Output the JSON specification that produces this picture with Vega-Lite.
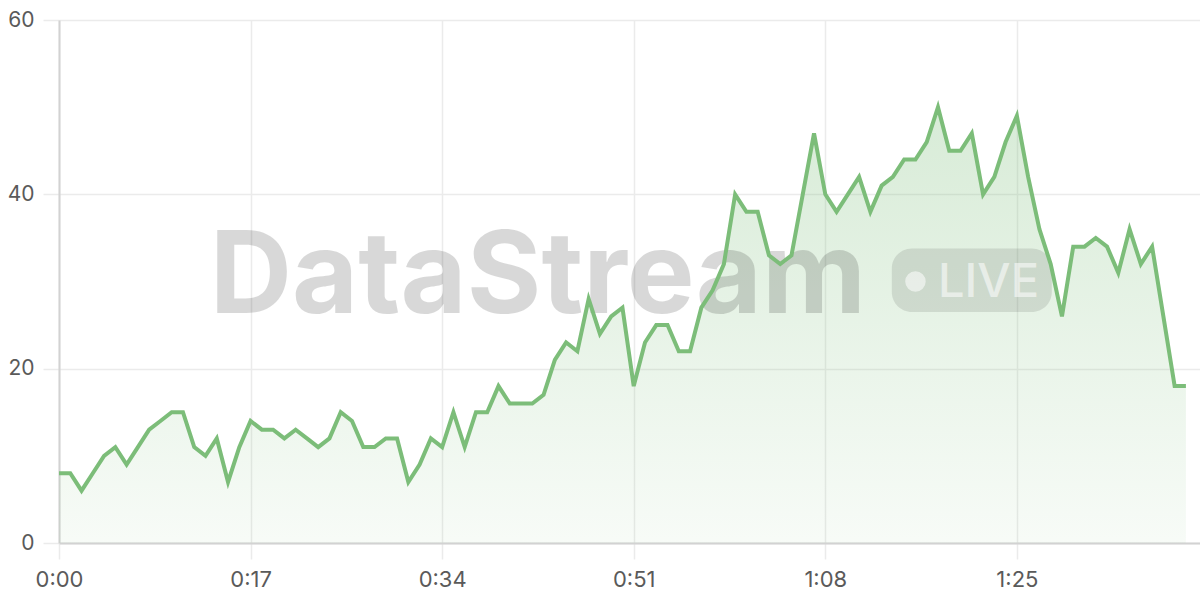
{
  "$schema": "https://vega.github.io/schema/vega-lite/v6.json",
  "width": 1141,
  "height": 523,
  "autosize": {"type": "none"},
  "padding": {"left": 59, "top": 20, "right": 0, "bottom": 57},
  "background": "white",
  "config": {
    "view": {"stroke": null},
    "font": "Inter",
    "axis": {
      "grid": true,
      "gridColor": "#ebebeb",
      "gridWidth": 1.5,
      "tickColor": "#ebebeb",
      "tickWidth": 1.5,
      "tickSize": 16,
      "domainColor": "#d2d2d2",
      "domainWidth": 2,
      "labelFontSize": 21,
      "labelColor": "#5a5a5a",
      "labelPadding": 9,
      "labelFlush": false,
      "title": null
    },
    "axisX": {"labelFontSize": 22, "labelPadding": 10}
  },
  "datasets": {
    "series": [
      {"t": 0, "v": 8}, {"t": 1, "v": 8}, {"t": 2, "v": 6}, {"t": 3, "v": 8}, {"t": 4, "v": 10},
      {"t": 5, "v": 11}, {"t": 6, "v": 9}, {"t": 7, "v": 11}, {"t": 8, "v": 13}, {"t": 9, "v": 14},
      {"t": 10, "v": 15}, {"t": 11, "v": 15}, {"t": 12, "v": 11}, {"t": 13, "v": 10}, {"t": 14, "v": 12},
      {"t": 15, "v": 7}, {"t": 16, "v": 11}, {"t": 17, "v": 14}, {"t": 18, "v": 13}, {"t": 19, "v": 13},
      {"t": 20, "v": 12}, {"t": 21, "v": 13}, {"t": 22, "v": 12}, {"t": 23, "v": 11}, {"t": 24, "v": 12},
      {"t": 25, "v": 15}, {"t": 26, "v": 14}, {"t": 27, "v": 11}, {"t": 28, "v": 11}, {"t": 29, "v": 12},
      {"t": 30, "v": 12}, {"t": 31, "v": 7}, {"t": 32, "v": 9}, {"t": 33, "v": 12}, {"t": 34, "v": 11},
      {"t": 35, "v": 15}, {"t": 36, "v": 11}, {"t": 37, "v": 15}, {"t": 38, "v": 15}, {"t": 39, "v": 18},
      {"t": 40, "v": 16}, {"t": 41, "v": 16}, {"t": 42, "v": 16}, {"t": 43, "v": 17}, {"t": 44, "v": 21},
      {"t": 45, "v": 23}, {"t": 46, "v": 22}, {"t": 47, "v": 28}, {"t": 48, "v": 24}, {"t": 49, "v": 26},
      {"t": 50, "v": 27}, {"t": 51, "v": 18}, {"t": 52, "v": 23}, {"t": 53, "v": 25}, {"t": 54, "v": 25},
      {"t": 55, "v": 22}, {"t": 56, "v": 22}, {"t": 57, "v": 27}, {"t": 58, "v": 29}, {"t": 59, "v": 32},
      {"t": 60, "v": 40}, {"t": 61, "v": 38}, {"t": 62, "v": 38}, {"t": 63, "v": 33}, {"t": 64, "v": 32},
      {"t": 65, "v": 33}, {"t": 66, "v": 40}, {"t": 67, "v": 47}, {"t": 68, "v": 40}, {"t": 69, "v": 38},
      {"t": 70, "v": 40}, {"t": 71, "v": 42}, {"t": 72, "v": 38}, {"t": 73, "v": 41}, {"t": 74, "v": 42},
      {"t": 75, "v": 44}, {"t": 76, "v": 44}, {"t": 77, "v": 46}, {"t": 78, "v": 50}, {"t": 79, "v": 45},
      {"t": 80, "v": 45}, {"t": 81, "v": 47}, {"t": 82, "v": 40}, {"t": 83, "v": 42}, {"t": 84, "v": 46},
      {"t": 85, "v": 49}, {"t": 86, "v": 42}, {"t": 87, "v": 36}, {"t": 88, "v": 32}, {"t": 89, "v": 26},
      {"t": 90, "v": 34}, {"t": 91, "v": 34}, {"t": 92, "v": 35}, {"t": 93, "v": 34}, {"t": 94, "v": 31},
      {"t": 95, "v": 36}, {"t": 96, "v": 32}, {"t": 97, "v": 34}, {"t": 98, "v": 26}, {"t": 99, "v": 18},
      {"t": 100, "v": 18}
    ],
    "brand": [{"name": "DataStream", "badge": "LIVE"}]
  },
  "layer": [
    {
      "data": {"name": "series"},
      "mark": {
        "type": "area",
        "fill": {
          "gradient": "linear",
          "x1": 0, "y1": 1, "x2": 0, "y2": 0,
          "stops": [
            {"offset": 0, "color": "rgba(124,190,122,0.06)"},
            {"offset": 1, "color": "rgba(124,190,122,0.30)"}
          ]
        }
      },
      "encoding": {
        "x": {
          "field": "t", "type": "quantitative",
          "scale": {"domain": [0, 101.25], "nice": false, "zero": false},
          "axis": {
            "values": [0, 17, 34, 51, 68, 85],
            "labelExpr": "floor(datum.value / 60) + ':' + (datum.value % 60 < 10 ? '0' : '') + (datum.value % 60)"
          }
        },
        "y": {
          "field": "v", "type": "quantitative",
          "scale": {"domain": [0, 60], "nice": false},
          "axis": {"values": [0, 20, 40, 60]}
        }
      }
    },
    {
      "data": {"name": "brand"},
      "mark": {"type": "text", "fontSize": 114, "fontWeight": "bold", "align": "center", "baseline": "alphabetic", "color": "#000000", "opacity": 0.15, "letterSpacing": -2},
      "encoding": {
        "x": {"datum": 42.5, "type": "quantitative"},
        "y": {"datum": 26.4, "type": "quantitative"},
        "text": {"field": "name"}
      }
    },
    {
      "data": {"name": "brand"},
      "mark": {"type": "rect", "color": "#000000", "opacity": 0.1, "cornerRadius": 20},
      "encoding": {
        "x": {"datum": 73.9, "type": "quantitative"},
        "x2": {"datum": 88.1},
        "y": {"datum": 33.8, "type": "quantitative"},
        "y2": {"datum": 26.5}
      }
    },
    {
      "data": {"name": "brand"},
      "mark": {"type": "point", "shape": "circle", "filled": true, "size": 420, "color": "#ffffff", "opacity": 0.55},
      "encoding": {
        "x": {"datum": 76.0, "type": "quantitative"},
        "y": {"datum": 30.0, "type": "quantitative"}
      }
    },
    {
      "data": {"name": "brand"},
      "mark": {"type": "text", "fontSize": 47, "fontWeight": 500, "align": "left", "baseline": "alphabetic", "color": "#ffffff", "opacity": 0.55},
      "encoding": {
        "x": {"datum": 78.0, "type": "quantitative"},
        "y": {"datum": 28.2, "type": "quantitative"},
        "text": {"field": "badge"}
      }
    },
    {
      "data": {"name": "series"},
      "mark": {"type": "line", "color": "#7cbd79", "strokeWidth": 4},
      "encoding": {
        "x": {"field": "t", "type": "quantitative"},
        "y": {"field": "v", "type": "quantitative"}
      }
    }
  ]
}
